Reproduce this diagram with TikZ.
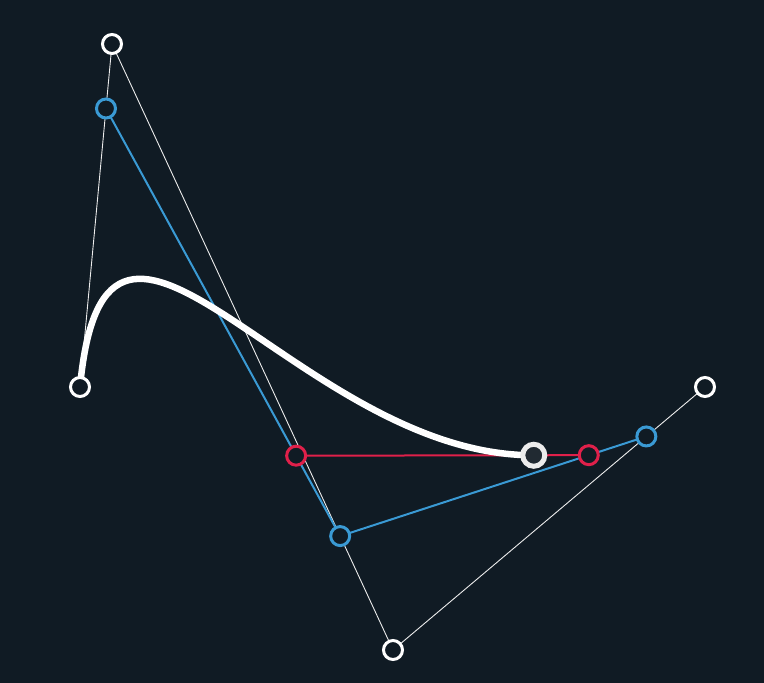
\documentclass[tikz,border=0pt]{standalone}
\usetikzlibrary{calc}
\definecolor{bg}{HTML}{101B24}
\definecolor{cblue}{HTML}{3A9AD4}
\definecolor{cred}{HTML}{E0204A}
\tikzset{
  ctrl/.style={circle,draw=white,line width=3pt,fill=bg,minimum size=19pt,inner sep=0pt},
  bpt/.style={circle,draw=cblue,line width=3pt,fill=bg,minimum size=19pt,inner sep=0pt},
  rpt/.style={circle,draw=cred,line width=3pt,fill=bg,minimum size=19pt,inner sep=0pt},
  spt/.style={circle,draw=white!85!gray,line width=5pt,fill=bg!85!gray,minimum size=22pt,inner sep=0pt},
  thin/.style={white!85!gray,line width=0.9pt},
  bline/.style={cblue,line width=2pt},
  rline/.style={cred,line width=2pt},
}
\begin{document}
\begin{tikzpicture}[x=1pt,y=-1pt]
\fill[bg] (0,0) rectangle (764,683);
\useasboundingbox (0,0) rectangle (764,683);
\coordinate (p0) at (80,387);
\coordinate (p1) at (112,44);
\coordinate (p2) at (393,650);
\coordinate (p3) at (705,387);
\coordinate (a) at ($(p0)!0.812!(p1)$);
\coordinate (b) at ($(p1)!0.812!(p2)$);
\coordinate (c) at ($(p2)!0.812!(p3)$);
\coordinate (d) at ($(a)!0.812!(b)$);
\coordinate (e) at ($(b)!0.812!(c)$);
\coordinate (s) at ($(d)!0.812!(e)$);
\draw[thin] (p0) -- (p1) -- (p2) -- (p3);
\draw[bline] (a) -- (b) -- (c);
\draw[rline] (d) -- (e);
\draw[white,line width=6.5pt,line cap=round] (p0) .. controls (a) and (d) .. (s);
\node[ctrl] (n0) at (p0) {};
\node[ctrl] (n1) at (p1) {};
\node[ctrl] (n2) at (p2) {};
\node[ctrl] (n3) at (p3) {};
\node[bpt] (na) at (a) {};
\node[bpt] (nb) at (b) {};
\node[bpt] (nc) at (c) {};
\node[rpt] (nd) at (d) {};
\node[rpt] (ne) at (e) {};
\node[spt] (ns) at (s) {};
\end{tikzpicture}
\end{document}
